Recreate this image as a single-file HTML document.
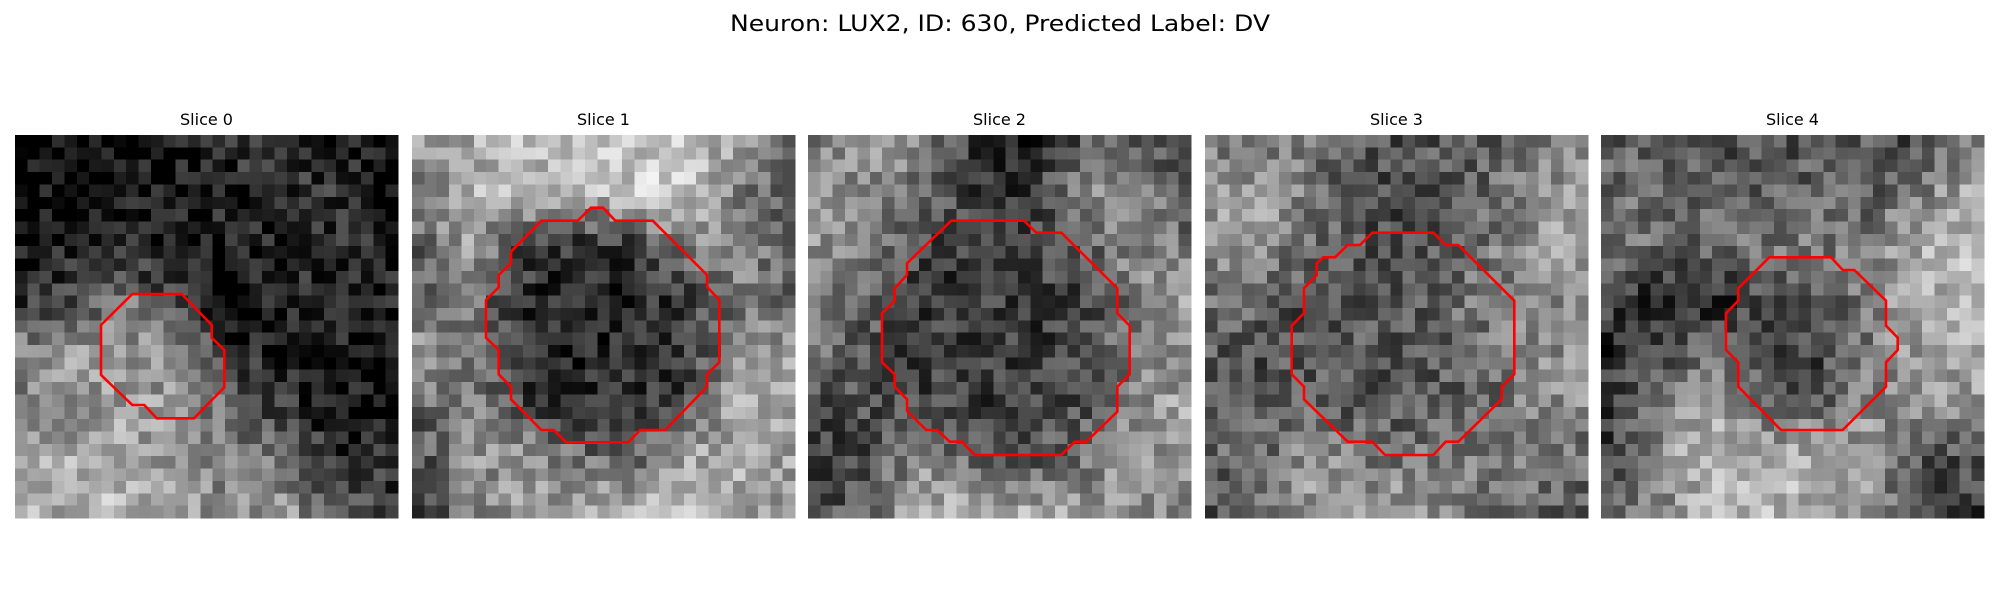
<!DOCTYPE html>
<html><head><meta charset="utf-8"><style>
html,body{margin:0;padding:0;background:#fff;width:2000px;height:600px;overflow:hidden}
svg text{font-family:"DejaVu Sans","Liberation Sans",sans-serif;fill:#000}
</style></head><body>
<svg id="fig" width="2000" height="600" viewBox="0 0 2000 600" xmlns="http://www.w3.org/2000/svg">
<rect width="2000" height="600" fill="#fff"/>
<text x="1000" y="31" font-size="22" text-anchor="middle" textLength="540" lengthAdjust="spacingAndGlyphs">Neuron: LUX2, ID: 630, Predicted Label: DV</text>
</svg>
<script>
// Slice titles
const sliceTitles = ["Slice 0","Slice 1","Slice 2","Slice 3","Slice 4"];
// Coarse 8x8 intensity maps per slice
const map0 = [[10,15,20,30,50,60,40,20],[20,25,40,45,50,60,55,30],[30,35,40,35,30,40,60,40],[50,80,120,60,30,35,50,40],[140,160,150,140,50,30,30,30],[130,130,160,150,100,60,30,30],[160,170,160,140,130,110,50,50],[170,170,180,150,140,150,90,70]];
const map1 = [[150,170,190,180,190,190,170,100],[130,170,180,170,190,200,130,80],[100,150,80,60,60,120,150,100],[110,130,50,40,45,60,120,110],[150,120,55,50,50,60,130,170],[100,140,70,60,60,70,170,170],[80,140,160,110,100,160,170,160],[70,120,150,170,190,180,170,150]];
const map2 = [[120,150,130,60,40,90,100,70],[150,140,110,70,60,140,150,80],[150,110,80,70,70,90,140,120],[140,100,60,60,65,70,120,160],[110,90,65,65,65,80,120,150],[80,80,75,70,70,80,130,160],[60,80,140,100,90,110,150,150],[70,110,170,170,170,160,150,130]];
const map3 = [[120,130,110,80,90,100,110,140],[150,160,120,80,70,100,130,150],[140,140,110,90,80,110,150,160],[110,100,70,90,90,120,130,150],[90,80,90,90,95,100,140,140],[100,90,100,85,90,100,130,140],[100,110,150,120,120,130,130,110],[90,120,150,160,150,120,100,90]];
const map4 = [[90,90,90,80,80,90,80,130],[110,110,100,100,110,90,130,180],[120,110,100,120,120,140,170,180],[70,30,40,80,90,130,170,170],[50,80,120,70,70,120,160,170],[60,120,160,100,100,140,150,150],[70,150,190,170,180,160,80,90],[90,130,170,180,170,140,60,60]];
// Contours in panel pixel units (x3 zoom coords)
const contour0 = [[352,477],[500,477],[590,570],[590,608],[628,645],[628,757],[537,850],[425,850],[388,810],[352,810],[258,720],[258,570]];
const contour1 = [[537,218],[573,218],[610,257],[722,257],[885,420],[885,455],[922,495],[922,682],[885,718],[885,755],[760,885],[685,885],[648,922],[462,922],[425,885],[388,885],[297,793],[297,755],[260,718],[260,645],[222,608],[222,495],[260,457],[260,420],[297,385],[297,350],[388,257],[497,257]];
const contour2 = [[430,257],[648,257],[685,293],[760,293],[928,460],[928,535],[965,572],[965,718],[928,755],[928,830],[835,920],[800,920],[760,960],[500,960],[462,920],[425,920],[388,885],[355,885],[297,828],[297,793],[260,755],[260,718],[222,682],[222,535],[260,497],[260,460],[297,420],[297,385]];
const contour3 = [[502,293],[685,293],[722,330],[760,330],[928,497],[928,718],[890,755],[890,793],[760,920],[722,920],[685,960],[540,960],[502,920],[428,920],[297,793],[297,755],[260,718],[260,572],[297,535],[297,460],[335,420],[335,385],[355,367],[390,367],[428,330],[465,330]];
const contour4 = [[505,367],[690,367],[725,405],[760,405],[855,497],[855,572],[890,608],[890,645],[855,682],[855,755],[725,885],[540,885],[412,755],[412,682],[375,645],[375,535],[412,497],[412,460]];

const maps=[map0,map1,map2,map3,map4];
const contours=[contour0,contour1,contour2,contour3,contour4];
const NS="http://www.w3.org/2000/svg";
const svg=document.getElementById('fig');
const X0=[15,412,808,1205,1601], Y0=135, SIZE=383, N=31, C=SIZE/N;
function hash(a,b,c){let h=(a*374761393+b*668265263+c*2147483647)|0;h=(h^(h>>>13))*1274126177|0;h=h^(h>>>16);return ((h>>>0)%1000)/1000;}
function sample(m,x,y){
  const fx=Math.min(Math.max(x*7,0),7), fy=Math.min(Math.max(y*7,0),7);
  const i0=Math.floor(fx), j0=Math.floor(fy), i1=Math.min(i0+1,7), j1=Math.min(j0+1,7);
  const tx=fx-i0, ty=fy-j0;
  return (m[j0][i0]*(1-tx)+m[j0][i1]*tx)*(1-ty)+(m[j1][i0]*(1-tx)+m[j1][i1]*tx)*ty;
}
for(let s=0;s<5;s++){
  const g=document.createElementNS(NS,'g');
  
  
  g.setAttribute('shape-rendering','crispEdges');
  for(let j=0;j<N;j++)for(let i=0;i<N;i++){
    let v=sample(maps[s],i/(N-1),j/(N-1));
    v=128+(v-128)*1.1+(hash(s,i,j)-0.5)*90;
    v=Math.round(Math.max(0,Math.min(255,v)));
    const r=document.createElementNS(NS,'rect');
    r.setAttribute('x',(X0[s]+i*C).toFixed(2));
    r.setAttribute('y',(Y0+j*C).toFixed(2));
    r.setAttribute('width',(C+0.6).toFixed(2));
    r.setAttribute('height',(C+0.6).toFixed(2));
    r.setAttribute('fill','rgb('+v+','+v+','+v+')');
    g.appendChild(r);
  }
  svg.appendChild(g);
  const t=document.createElementNS(NS,'text');
  
  
  t.setAttribute('x',X0[s]+SIZE/2);
  t.setAttribute('y',125);
  t.setAttribute('font-size','16');
  t.setAttribute('text-anchor','middle');
  t.textContent=sliceTitles[s];
  svg.appendChild(t);
  const p=document.createElementNS(NS,'polygon');
  
  
  p.setAttribute('points',contours[s].map(q=>(X0[s]+q[0]/3).toFixed(1)+','+(Y0+q[1]/3).toFixed(1)).join(' '));
  p.setAttribute('fill','none');
  p.setAttribute('stroke','#ff0000');
  p.setAttribute('stroke-width','2.6');
  svg.appendChild(p);
}
</script>
</body></html>
